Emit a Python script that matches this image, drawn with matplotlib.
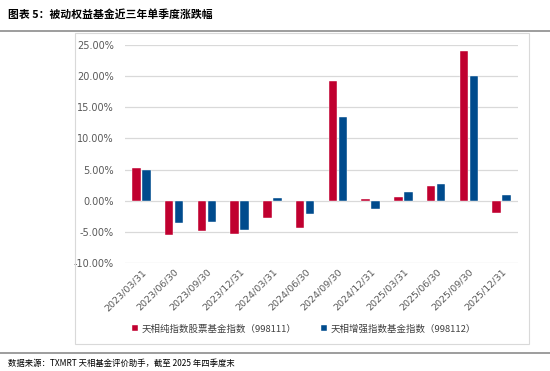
import matplotlib.pyplot as plt
import numpy as np
from matplotlib.patches import Rectangle
from matplotlib.lines import Line2D
from matplotlib.ticker import FuncFormatter

plt.rcParams['font.family'] = ['Noto Sans CJK SC', 'DejaVu Sans']

quarters = ["2023/03/31", "2023/06/30", "2023/09/30", "2023/12/31",
            "2024/03/31", "2024/06/30", "2024/09/30", "2024/12/31",
            "2025/03/31", "2025/06/30", "2025/09/30", "2025/12/31"]
pure_index = [5.3, -5.4, -4.85, -5.3, -2.8, -4.3, 19.2, 0.26, 0.63, 2.3, 24.0, -2.0]
enhanced_index = [4.9, -3.5, -3.4, -4.7, 0.5, -2.1, 13.4, -1.3, 1.4, 2.65, 20.0, 1.0]

red = "#C0002F"
blue = "#004B8D"
grey_txt = "#595959"

fig = plt.figure(figsize=(5.5, 3.71), dpi=100)

# title and rules
fig.text(0.015, 0.962, "图表 5：被动权益基金近三年单季度涨跌幅", fontsize=7.8,
         fontweight="bold", va="center", ha="left")
fig.add_artist(Line2D([0, 1], [1 - 31 / 371] * 2, color="#8C8C8C", lw=1.2))
fig.add_artist(Line2D([0, 1], [1 - 352.5 / 371] * 2, color="#8C8C8C", lw=1.2))
fig.text(0.015, 1 - 363 / 371, "数据来源：TXMRT 天相基金评价助手，截至 2025 年四季度末",
         fontsize=6, va="center", ha="left")

# chart box
fig.add_artist(Rectangle((75 / 550, 1 - 344 / 371), 454 / 550, 311 / 371,
                         transform=fig.transFigure, fill=False,
                         edgecolor="#D9D9D9", lw=0.8))

ax = fig.add_axes([125 / 550, 1 - 263.3 / 371, 393 / 550, 218.6 / 371])
x = np.arange(len(quarters))
w = 0.26
ax.bar(x - w / 2 - 0.02, pure_index, w, color=red, edgecolor="white", linewidth=0.3,
       label="天相纯指数股票基金指数（998111）", zorder=3)
ax.bar(x + w / 2 + 0.02, enhanced_index, w, color=blue, edgecolor="white", linewidth=0.3,
       label="天相增强指数基金指数（998112）", zorder=3)

ax.set_xlim(-0.5, len(quarters) - 0.5)
ax.set_ylim(-10, 25)
ax.set_yticks(np.arange(-10, 26, 5))
ax.yaxis.set_major_formatter(FuncFormatter(lambda v, p: f"{v:.2f}%"))
ax.grid(axis="y", color="#D9D9D9", lw=0.9, zorder=0)
for s in ax.spines.values():
    s.set_visible(False)
ax.tick_params(axis="both", length=0, labelsize=7, colors=grey_txt)
ax.tick_params(axis="y", pad=8)
ax.set_xticks(x)
ax.set_xticklabels(quarters, rotation=45, ha="right", rotation_mode="anchor",
                   fontsize=6.8, color=grey_txt, family=["DejaVu Sans"])
ax.tick_params(axis="x", pad=3)
for t in ax.get_yticklabels():
    t.set_family("DejaVu Sans")

ax.legend(loc="center", bbox_to_anchor=(0.455, -0.3), ncol=2, frameon=False,
          fontsize=6.8, handlelength=0.6, handleheight=0.6, columnspacing=2.6,
          handletextpad=0.4, labelcolor="#404040")

fig.savefig("out.png", dpi=100)
